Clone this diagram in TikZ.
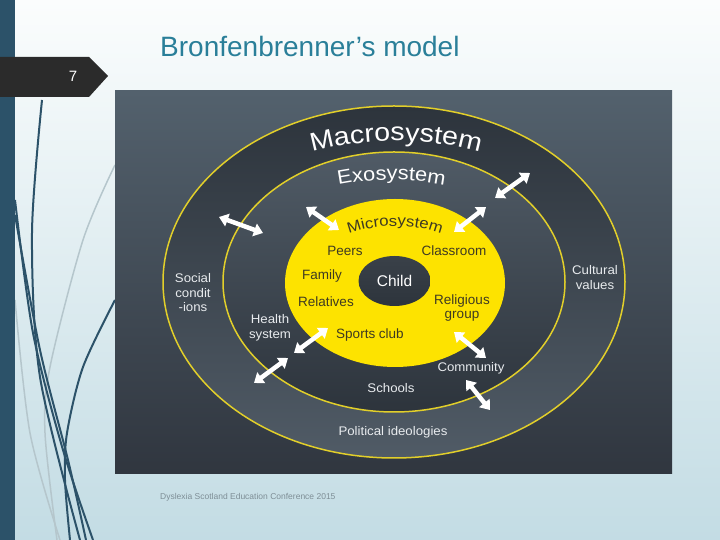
\documentclass[tikz,border=0pt]{standalone}
\usepackage{fontspec}
\setmainfont{Liberation Sans}
\newfontfamily\lbl[FakeStretch=1.06]{Liberation Sans}
\newfontfamily\curvefam[FakeStretch=1.12]{Liberation Sans}
\usetikzlibrary{decorations.text,arrows.meta}
\definecolor{bgtop}{HTML}{FBFDFD}
\definecolor{bgbot}{HTML}{C3DCE4}
\definecolor{barcol}{HTML}{2C5269}
\definecolor{tagcol}{HTML}{2B2B2B}
\definecolor{titlecol}{HTML}{2A7F99}
\definecolor{boxtop}{HTML}{53616D}
\definecolor{boxbot}{HTML}{30363F}
\definecolor{ringdark}{HTML}{2D343C}
\definecolor{ringlight}{HTML}{505B66}
\definecolor{ylw}{HTML}{FDE300}
\definecolor{ylwline}{HTML}{E2CF2A}
\definecolor{childcol}{HTML}{3A4149}
\definecolor{microtxt}{HTML}{3E3A22}
\definecolor{lbltxt}{HTML}{E8EBEE}
\definecolor{lightcurve}{HTML}{B5C6CC}
\definecolor{footcol}{HTML}{7E8E96}
\newcommand\macrofont{\curvefam\fontsize{25.5}{26}\selectfont\color{white}}
\newcommand\exofont{\curvefam\fontsize{19.5}{20}\selectfont\color{white}}
\newcommand\microfont{\curvefam\fontsize{15}{15}\selectfont\color{microtxt}}
\begin{document}
\begin{tikzpicture}[x=1pt,y=1pt,
  inlbl/.style={text=microtxt,font=\fontsize{13.5}{14}\selectfont,inner sep=0pt},
  outlbl/.style={text=lbltxt,font=\lbl\fontsize{12.5}{14.5}\selectfont,align=center,inner sep=0pt},
  dbl/.style={line width=4.5pt,white,{Triangle[length=9pt,width=13pt]}-{Triangle[length=9pt,width=13pt]}},
  darkcurve/.style={barcol,line width=2pt},
  lcurve/.style={lightcurve,line width=1.5pt}]
\useasboundingbox (0,0) rectangle (720,540);
% slide background
\shade[top color=bgtop,bottom color=bgbot] (0,0) rectangle (720,540);
% decorative curves
\draw[lcurve] plot[smooth] coordinates {(115,375) (83,300) (50,173) (45,107) (57,0)};
\draw[lcurve] plot[smooth] coordinates {(15,240) (30,107) (60,0)};
\draw[darkcurve] plot[smooth] coordinates {(42,440) (32,307) (40,163) (80,0)};
\draw[darkcurve] plot[smooth] coordinates {(15,340) (33,207) (63,90) (93,0)};
\draw[darkcurve] plot[smooth] coordinates {(15,325) (40,190) (68,80) (86,0)};
\draw[darkcurve] plot[smooth] coordinates {(115,240) (83,173) (67,107) (65,60) (70,0)};
\fill[barcol] (0,0) rectangle (15,540);
% page tag
\fill[tagcol] (0,483) -- (89,483) -- (108,464) -- (89,443) -- (0,443) -- cycle;
\node[text=white,font=\fontsize{15}{15}\selectfont] (num) at (73,464) {7};
% title
\node[text=titlecol,font=\fontsize{28}{28}\selectfont,anchor=west,inner sep=0pt] (title) at (160,493) {Bronfenbrenner’s model};
% picture box
\shade[top color=boxtop,bottom color=boxbot] (115,66) rectangle (672,449);
% rings
\shade[top color=ringdark,bottom color=ringlight,draw=ylwline,line width=1.5pt] (394,258) ellipse [x radius=231,y radius=176];
\shade[top color=ringlight,bottom color=ringdark,draw=ylwline,line width=1.5pt] (394,258) ellipse [x radius=171,y radius=130];
\fill[ylw] (395,257) ellipse [x radius=110,y radius=84];
\shade[top color=childcol,bottom color=ringdark] (394.5,259) ellipse [x radius=36,y radius=25];
% curved titles
\path[decorate,decoration={text along path,text align=center,text={|\macrofont|Macrosystem}}]
  (396,258) ++(150:215 and 141) arc[start angle=150,end angle=30,x radius=215,y radius=141];
\path[decorate,decoration={text along path,text align=center,text={|\exofont|Exosystem}}]
  (391.5,258) ++(150:170 and 102) arc[start angle=150,end angle=30,x radius=170,y radius=102];
\path[decorate,decoration={text along path,text align=center,text={|\microfont|Microsystem}}]
  (395,257) ++(155:90 and 57) arc[start angle=155,end angle=25,x radius=90,y radius=57];
% microsystem labels
\node[inlbl] (peers) at (345,289) {Peers};
\node[inlbl] (class) at (454,289) {Classroom};
\node[inlbl] (family) at (322,264) {Family};
\node[inlbl] (relat) at (326,238) {Relatives};
\node[inlbl,align=center] (relig) at (462,232) {Religious\\group};
\node[inlbl] (sports) at (370,205) {Sports club};
\node[text=white,font=\fontsize{15.5}{16}\selectfont,inner sep=0pt] (child) at (394.5,259) {Child};
% outer labels
\node[outlbl] (social) at (193,247) {Social\\condit\\-ions};
\node[outlbl] (cult) at (595,262.5) {Cultural\\values};
\node[outlbl] (health) at (270,212) {Health\\system};
\node[outlbl] (comm) at (471,172) {Community};
\node[outlbl] (schools) at (391,152) {Schools};
\node[outlbl] (pol) at (393,108) {Political ideologies};
% arrows
\coordinate (a1) at (219,323); \coordinate (b1) at (263,307);
\coordinate (a2) at (306,333); \coordinate (b2) at (339,310);
\coordinate (a3) at (454,308); \coordinate (b3) at (486,333);
\coordinate (a4) at (495,342); \coordinate (b4) at (530,367);
\coordinate (a5) at (294,187); \coordinate (b5) at (328,212);
\coordinate (a6) at (254,157); \coordinate (b6) at (288,182);
\coordinate (a7) at (454,208); \coordinate (b7) at (486,182);
\coordinate (a8) at (466,160); \coordinate (b8) at (490,130);
\foreach \i in {1,...,8} {\draw[dbl] (a\i) -- (b\i);}
% footer
\node[text=footcol,font=\fontsize{8.5}{9}\selectfont,anchor=west,inner sep=0pt] (foot) at (160,43) {Dyslexia Scotland Education Conference 2015};
\end{tikzpicture}
\end{document}
